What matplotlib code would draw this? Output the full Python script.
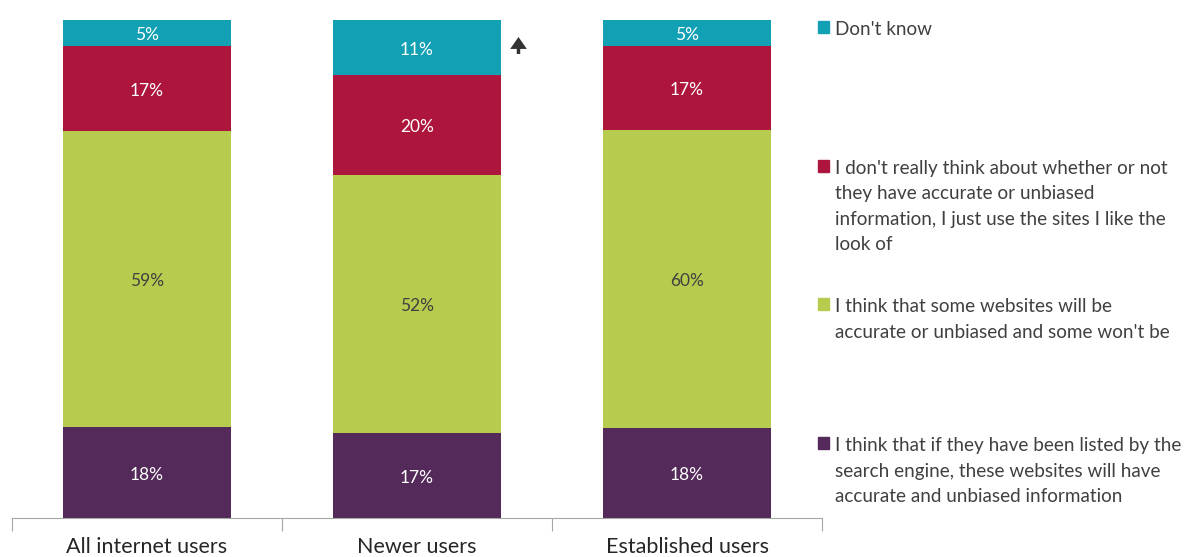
import matplotlib.pyplot as plt
from matplotlib.patches import Rectangle
import numpy as np

plt.rcParams['font.family'] = ['Lato', 'DejaVu Sans']

categories = ['All internet users', 'Newer users', 'Established users']
series_names = [
    'I think that if they have been listed by the\nsearch engine, these websites will have\naccurate and unbiased information',
    "I think that some websites will be\naccurate or unbiased and some won't be",
    "I don't really think about whether or not\nthey have accurate or unbiased\ninformation, I just use the sites I like the\nlook of",
    "Don't know",
]
# segment sizes as drawn (%), bottom to top
listed = [18.2, 17.1, 18.1]
some = [59.6, 51.8, 59.8]
dont_think = [17.0, 20.1, 16.9]
dont_know = [5.2, 11.0, 5.2]
# printed labels
listed_lbl = [18, 17, 18]
some_lbl = [59, 52, 60]
dont_think_lbl = [17, 20, 17]
dont_know_lbl = [5, 11, 5]

colors = ['#532A59', '#B7CB4F', '#AD153D', '#12A0B4']
text_colors = ['white', '#404040', 'white', 'white']

W, H = 1186, 557
fig = plt.figure(figsize=(W / 100, H / 100), dpi=100)
ax = fig.add_axes([12 / W, (H - 518) / H, 810 / W, 498 / H])

x = np.arange(len(categories))
bottom = np.zeros(len(categories))
for vals, lbls, c, tc in zip([listed, some, dont_think, dont_know],
                             [listed_lbl, some_lbl, dont_think_lbl, dont_know_lbl],
                             colors, text_colors):
    vals = np.array(vals)
    ax.bar(x, vals, bottom=bottom, width=0.62, color=c)
    for xi, b, v, l in zip(x, bottom, vals, lbls):
        ax.text(xi, b + v / 2 - 0.5, f'{l}%', ha='center', va='center',
                color=tc, fontsize=12.5)
    bottom += vals

ax.set_xlim(-0.5, 2.5)
ax.set_ylim(0, 100)
for s in ['top', 'right', 'left']:
    ax.spines[s].set_visible(False)
ax.spines['bottom'].set_color('#A6A6A6')
ax.set_yticks([])
ax.set_xticks([-0.5, 0.5, 1.5, 2.5])
ax.set_xticklabels([])
ax.tick_params(axis='x', length=9, color='#A6A6A6')
for xi, cat in zip(x, categories):
    ax.text(xi, -5.8, cat, ha='center', va='center', fontsize=15.5,
            color='#262626', clip_on=False)

# significance arrow
ax.annotate('', xy=(518.5, H - 37), xytext=(518.5, H - 54), xycoords='figure pixels',
            textcoords='figure pixels',
            arrowprops=dict(arrowstyle='simple,head_length=0.86,head_width=1.2,tail_width=0.25',
                            mutation_scale=10, color='#333333', lw=0,
                            shrinkA=0, shrinkB=0))

# legend, top to bottom
leg_order = [3, 2, 1, 0]
for i, k in enumerate(leg_order):
    ytop = 27 + i * 138.7
    fig.patches.append(Rectangle((818 / W, (H - ytop - 6) / H), 11 / W, 12 / H,
                                 transform=fig.transFigure, color=colors[k]))
    fig.text(835 / W, (H - ytop + 6) / H, series_names[k], ha='left', va='top',
             fontsize=13.6, color='#404040', linespacing=1.6)

fig.savefig('out.png', dpi=100)
